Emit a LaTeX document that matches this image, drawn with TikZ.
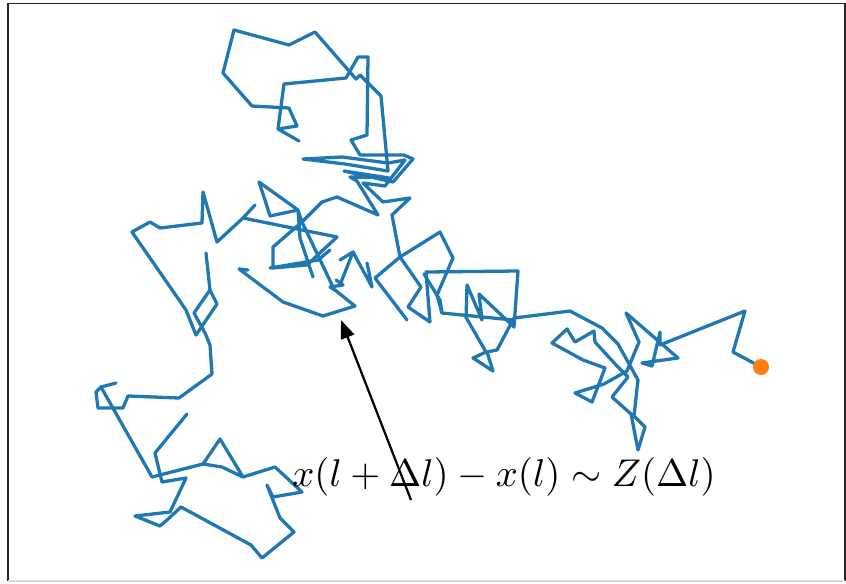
\documentclass[tikz,border=0pt]{standalone}
\usetikzlibrary{arrows.meta}
\definecolor{mplblue}{HTML}{1F77B4}
\definecolor{mplorange}{HTML}{FF7F0E}
\tikzset{
  walkline/.style={draw=mplblue, line width=2.8pt, line join=round, line cap=round},
  enddot/.style={circle, fill=mplorange, inner sep=0pt, minimum size=0.48cm},
  pointer/.style={-{Triangle[length=0.55cm,width=0.42cm]}, line width=1.9pt, black},
  formulalabel/.style={inner sep=0pt, scale=3.3, transform shape},
  frameline/.style={draw=black!85, line width=1.2pt}
}
\begin{document}
\begin{tikzpicture}[x=0.03cm, y=-0.03cm]
\useasboundingbox (0,0) rectangle (846,583);
\draw[frameline] (8,581) -- (8,3.5) -- (845,3.5) -- (845,581);
\draw[frameline, draw=black!15] (8,581) -- (845,581);

% top loop and upper tangle
\draw[walkline] plot coordinates {(299,141) (278,129) (297,126) (289,108) (252,106) (223,73) (234,30) (289,45) (315,32) (356,79) (360,75) (381,96) (388,171) (345,164) (303,159) (342,157) (388,163) (405,160) (385,186) (363,183) (383,202) (410,198) (392,215) (400,257) (421,287) (408,307) (430,322) (426,272) (518,271) (514,327) (479,294) (482,320) (467,285) (466,318)};
\draw[walkline] plot coordinates {(278,129) (284,84) (346,78) (358,57) (368,57) (367,135) (351,140) (360,155) (404,155) (413,159) (393,182) (344,171) (389,178) (350,177) (357,181) (378,215) (337,197) (322,202) (302,222) (298,210) (259,182) (265,200) (270,216) (298,210) (300,238) (313,277)};

% left arm
\draw[walkline] plot coordinates {(255,205) (243,218) (217,242) (203,192) (202,223) (160,228) (150,222) (132,232) (186,310) (196,335) (217,304) (210,290) (206,253)};
\draw[walkline] plot coordinates {(210,290) (194,313) (205,333) (210,345) (212,374) (179,398) (128,396) (123,408) (98,408) (96,392) (101,387) (116,383)};
\draw[walkline] plot coordinates {(101,387) (152,477) (203,464) (220,439) (243,477) (222,467) (203,464)};
\draw[walkline] plot coordinates {(243,477) (275,467) (302,492) (273,497) (267,485) (280,518) (294,532) (262,558) (251,545) (181,507) (167,520) (160,526) (135,516) (170,512) (186,478) (162,482) (155,453) (187,414)};

% middle tangle
\draw[walkline] plot coordinates {(243,218) (337,237) (307,265) (273,268) (273,247) (302,222) (333,287)};
\draw[walkline] plot coordinates {(248,270) (239,269) (283,302) (323,316) (355,306) (335,290) (330,287) (343,285) (336,280)};
\draw[walkline] plot coordinates {(270,268) (318,260) (330,250)};
\draw[walkline] plot coordinates {(340,260) (353,252) (372,287) (367,263)};
\draw[walkline] plot coordinates {(353,252) (340,285)};
\draw[walkline] plot coordinates {(513,320) (442,313) (437,295) (453,258) (440,232) (400,257) (375,278) (407,320)};
\draw[walkline] plot coordinates {(424,274) (440,300) (442,313)};

% right arm
\draw[walkline] plot coordinates {(467,319) (486,352) (473,358) (493,371) (487,352) (497,350) (514,318) (570,311) (602,328) (618,344) (628,362) (638,380) (634,416) (645,427) (638,450) (631,414) (612,397) (628,377) (617,366) (595,342) (594,331) (575,342) (567,329) (552,343) (583,360) (605,368) (592,402) (575,393) (604,384) (627,371) (639,342) (626,313) (678,358) (642,363) (652,366) (660,332) (660,345) (745,311) (733,352) (761,367)};

\node[enddot] (last) at (761,367) {};

\node[formulalabel] (formula) at (504,477) {$x(l+\Delta l)-x(l)\sim Z(\Delta l)$};
\coordinate (tail) at (411,500);
\coordinate (target) at (341,320);
\draw[pointer] (tail) -- (target);
\end{tikzpicture}
\end{document}
